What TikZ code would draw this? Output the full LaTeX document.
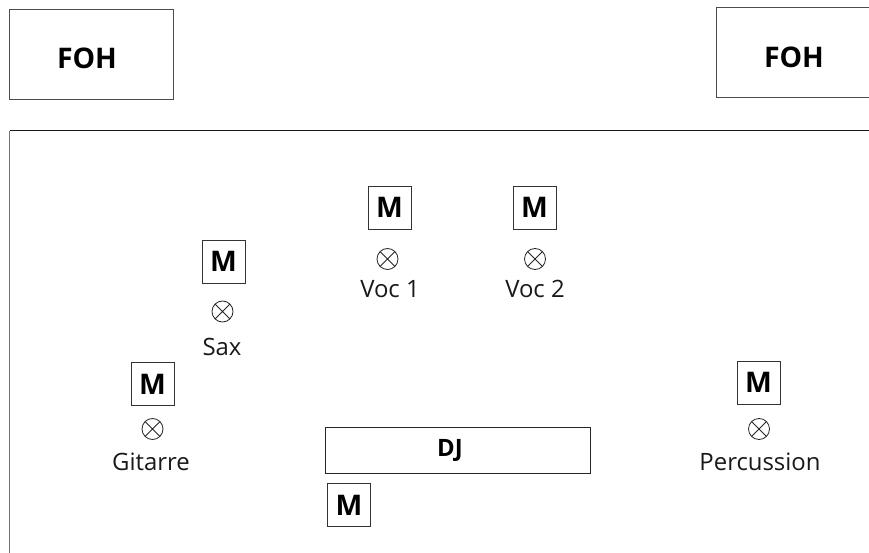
\documentclass[tikz,border=0pt]{standalone}
\usepackage{fontspec}
\setmainfont{Open Sans}
\begin{document}
\begin{tikzpicture}[x=1bp,y=-1bp,
  box/.style={draw=black!70, line width=0.9bp, inner sep=0pt},
  foh/.style={box, minimum width=164bp, minimum height=90bp},
  fohtext/.style={inner sep=0pt, font=\fontsize{28.5}{28.5}\selectfont\bfseries},
  mbox/.style={box, draw=black!80, minimum width=43bp, minimum height=43bp, font=\fontsize{28.5}{28.5}\selectfont\bfseries},
  mic/.style={circle, draw=black!85, line width=0.8bp, minimum size=21bp, inner sep=0pt,
    path picture={\draw[black!85, line width=0.8bp] (path picture bounding box.north west) -- (path picture bounding box.south east)
      (path picture bounding box.north east) -- (path picture bounding box.south west);}},
  lab/.style={anchor=base, inner sep=0pt, font=\fontsize{24}{24}\selectfont, text=black!90},
  djtext/.style={inner sep=0pt, font=\fontsize{24}{24}\selectfont\bfseries}
]
\useasboundingbox (0,0) rectangle (869,553);
\clip (0,0) rectangle (869,553);

% FOH boxes
\node[foh] (foh1) at (91,54) {};
\node[fohtext] (foh1t) at (87,58) {FOH};
\node[foh, minimum width=170bp] (foh2) at (801,52) {};
\node[fohtext] (foh2t) at (794,57) {FOH};

% stage
\coordinate (stNW) at (9.5,131);
\coordinate (stNE) at (880,131);
\coordinate (stSW) at (9.5,570);
\draw[black!55, line width=1.2bp] (stNW) -- (stSW);
\draw[black!90, line width=1bp] (stNW) -- (stNE);

% Sax
\node[mbox] (msax) at (223.5,261.5) {M};
\node[mic] (isax) at (222.5,311.5) {};
\node[lab] (lsax) at (222,355) {Sax};

% Gitarre
\node[mbox] (mgit) at (152.5,384) {M};
\node[mic] (igit) at (152.5,429) {};
\node[lab] (lgit) at (151,470) {Gitarre};

% Voc 1
\node[mbox] (mv1) at (389.5,207.5) {M};
\node[mic] (iv1) at (387.5,259) {};
\node[lab] (lv1) at (390,298) {Voc 1};

% Voc 2
\node[mbox] (mv2) at (534.5,207.5) {M};
\node[mic] (iv2) at (535,259) {};
\node[lab] (lv2) at (535,298) {Voc 2};

% Percussion
\node[mbox] (mperc) at (758.5,382.5) {M};
\node[mic] (iperc) at (759,429) {};
\node[lab] (lperc) at (760,470) {Percussion};

% DJ
\node[box, draw=black!85, minimum width=265bp, minimum height=46bp] (dj) at (457.5,450) {};
\node[djtext] (djt) at (450,450) {DJ};
\node[mbox] (mdj) at (349,505) {M};
\end{tikzpicture}
\end{document}
